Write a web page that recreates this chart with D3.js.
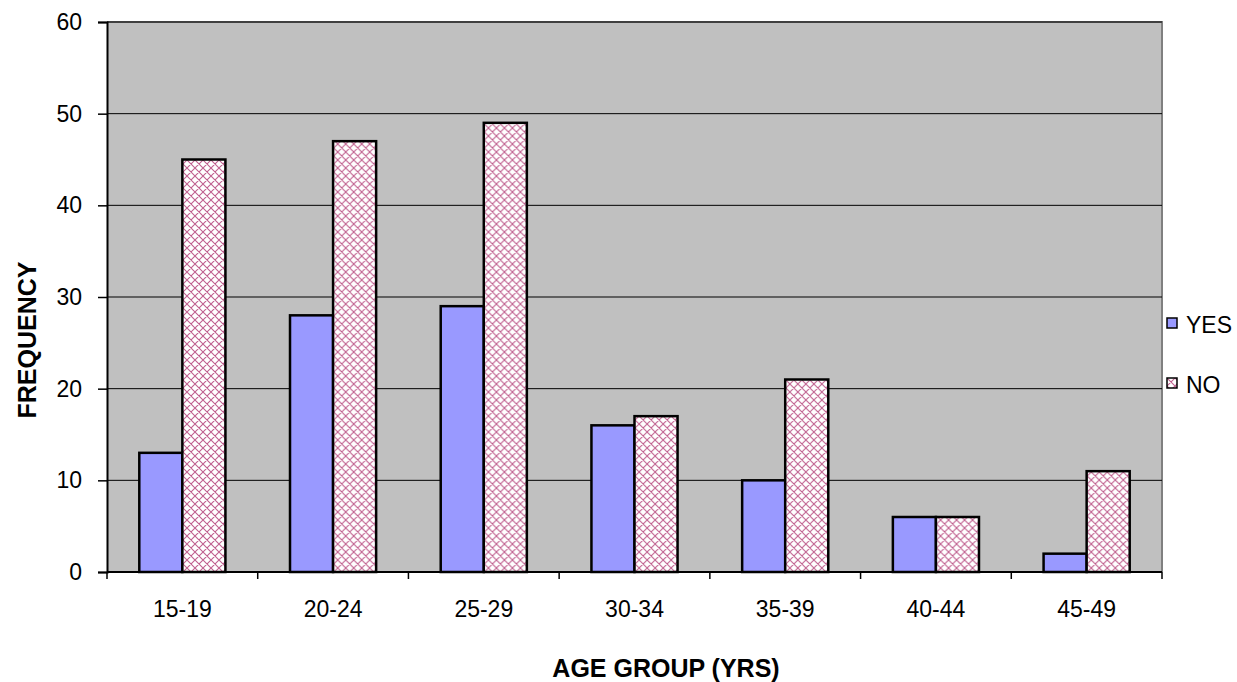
<!DOCTYPE html>
<html><head><meta charset="utf-8">
<script src="https://cdn.jsdelivr.net/npm/d3@7"></script>
<style>body{margin:0;background:#fff;}text{font-family:"Liberation Sans",Arial,sans-serif;}</style>
</head><body>
<svg id="c" width="1237" height="682"></svg>
<script>
const categories = ["15-19","20-24","25-29","30-34","35-39","40-44","45-49"];
const yesValues = [13,28,29,16,10,6,2];
const noValues = [45,47,49,17,21,6,11];
const seriesNames = ["YES","NO"];
const yTicks = [0,10,20,30,40,50,60];

const svg = d3.select("#c");
const L=107, R=1162, T=22, B=572;
const defs = svg.append("defs");
const pat = defs.append("pattern").attr("id","hatch").attr("patternUnits","userSpaceOnUse")
  .attr("width",8).attr("height",8);
pat.append("rect").attr("width",8).attr("height",8).attr("fill","#fff");
pat.append("path").attr("d","M0,0L8,8M8,0L0,8M-1,7L1,9M7,-1L9,1M-1,1L1,-1M7,9L9,7")
  .attr("stroke","#c0608f").attr("stroke-width",1.1);

const x = d3.scaleBand().domain(categories).range([L,R]).paddingInner(0).paddingOuter(0);
const y = d3.scaleLinear().domain([0,60]).range([B,T]);
const xs = d3.scaleBand().domain(seriesNames).range([0,x.bandwidth()]).paddingInner(0).paddingOuter(0.75);

svg.append("rect").attr("x",L).attr("y",T).attr("width",R-L).attr("height",B-T).attr("fill","#c0c0c0");
svg.append("path").attr("d",`M${L},${T}H${R}V${B}`).attr("fill","none").attr("stroke","#808080").attr("stroke-width",2);

svg.append("g").selectAll("line").data(yTicks.filter(d=>d>0)).join("line")
  .attr("x1",L).attr("x2",R).attr("y1",d=>y(d)).attr("y2",d=>y(d)).attr("stroke","#000").attr("stroke-width",1);

const data = categories.map((c,i)=>({c, vals:[{k:"YES",v:yesValues[i]},{k:"NO",v:noValues[i]}]}));
const g = svg.append("g").selectAll("g").data(data).join("g").attr("transform",d=>`translate(${x(d.c)},0)`);
g.selectAll("rect").data(d=>d.vals).join("rect")
  .attr("x",d=>xs(d.k)).attr("width",xs.bandwidth())
  .attr("y",d=>y(d.v)).attr("height",d=>B-y(d.v))
  .attr("fill",d=>d.k==="YES"?"#9999ff":"url(#hatch)")
  .attr("stroke","#000").attr("stroke-width",2.5);

const ya = svg.append("g").attr("transform",`translate(${L},0)`)
  .call(d3.axisLeft(y).tickValues(yTicks).tickSize(9).tickPadding(16).tickFormat(d3.format("d")));
ya.select(".domain").attr("stroke","#000").attr("stroke-width",2);
ya.selectAll("text").attr("font-size",23).attr("fill","#000").style("font-family","Liberation Sans, Arial, sans-serif");
ya.selectAll(".tick line").attr("stroke","#000").attr("stroke-width",1.5);

const xa = svg.append("g").attr("transform",`translate(0,${B})`)
  .call(d3.axisBottom(x).tickSize(0).tickPadding(29));
xa.select(".domain").attr("stroke","#000").attr("stroke-width",2).attr("d",`M${L},0H${R}`);
xa.selectAll("text").attr("font-size",23).attr("fill","#000").style("font-family","Liberation Sans, Arial, sans-serif");
const edges = categories.map(c=>x(c)).concat([R]);
svg.append("g").selectAll("line").data(edges).join("line")
  .attr("x1",d=>d).attr("x2",d=>d).attr("y1",B).attr("y2",B+7).attr("stroke","#000").attr("stroke-width",1.5);

svg.append("text").attr("x",666).attr("y",677).attr("text-anchor","middle")
  .attr("font-size",25).attr("font-weight","bold").text("AGE GROUP (YRS)");
svg.append("text").attr("transform","translate(36,340) rotate(-90)").attr("text-anchor","middle")
  .attr("font-size",25).attr("font-weight","bold").text("FREQUENCY");

const lg = svg.append("g").selectAll("g").data(seriesNames).join("g")
  .attr("transform",(d,i)=>`translate(1167,${318+i*60})`);
lg.append("rect").attr("width",10).attr("height",10)
  .attr("fill",d=>d==="YES"?"#9999ff":"url(#hatch)").attr("stroke","#000").attr("stroke-width",1.5);
lg.append("text").attr("x",19).attr("y",15).attr("font-size",23).text(d=>d);
</script>
</body></html>
